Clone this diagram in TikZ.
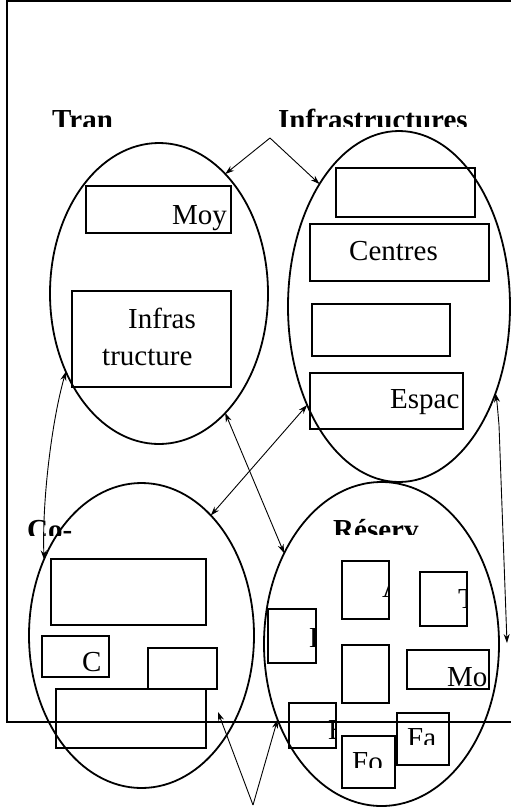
\documentclass[tikz,border=0pt]{standalone}
\usepackage{fontspec}
\setmainfont{Liberation Serif}
\usetikzlibrary{arrows.meta,calc,positioning,shapes}
\tikzstyle{zone}=[
  draw=black,
  ellipse,
  inner sep=0pt,
  outer sep=0pt,
  line width=1.8pt,
]
\tikzstyle{element}=[
  draw=black,
  rectangle,
  inner sep=0pt,
  outer sep=0pt,
  line width=1.6pt,
]
\tikzstyle{boxtext}=[
  anchor=base west,
  inner sep=0pt,
  font={\fontsize{29}{37}\selectfont},
]
\tikzstyle{heading}=[
  anchor=base west,
  inner sep=0pt,
  font={\fontsize{29}{37}\selectfont\bfseries},
]
\tikzstyle{arrow}=[
  draw=black,
  line width=0.9pt,
]
\tikzset{
  >={Stealth[length=9pt,width=6pt]},
}

\begin{document}
\begin{tikzpicture}[x=1pt,y=-1pt]
     \useasboundingbox (0,0) rectangle (511,807);
     \draw [line width=1.6pt] (7,1) rectangle (540,722);
     %% zones
     \node (trans) [zone, minimum width=218pt, minimum height=301pt] at (159,293.5) {};
     \node (infra) [zone, minimum width=222pt, minimum height=351pt] at (399,306.5) {};
     \node (co) [zone, minimum width=225pt, minimum height=305pt] at (141.5,635.5) {};
     \node (reserve) [zone, minimum width=235pt, minimum height=324pt] at (381.5,644) {};
     %% headings
     \begin{scope}
       \clip (40,90) rectangle (140,126);
       \node (tran) [heading] at (52,129.5) {Tran};
     \end{scope}
     \begin{scope}
       \clip (270,90) rectangle (480,126);
       \node (infratitle) [heading] at (278,129.5) {Infrastructures};
     \end{scope}
     \begin{scope}
       \clip (20,505) rectangle (120,535);
       \node (cotitle) [heading] at (27,539.5) {Co-};
     \end{scope}
     \begin{scope}
       \clip (320,505) rectangle (430,534);
       \node (restitle) [heading] at (333,539) {Réserv};
     \end{scope}
     %% boxes of the first zone
     \node (moy) [element, minimum width=145pt, minimum height=47pt] at (158.5,209.5) {};
     \node (infbox) [element, minimum width=159pt, minimum height=96pt] at (151.5,339) {};
     \begin{scope}
       \clip (moy.south west) rectangle (moy.north east);
       \node [boxtext] at (172,224) {Moy};
     \end{scope}
     \node [boxtext] at (128,328) {Infras};
     \node [boxtext] at (102,365) {tructure};
     %% boxes of the second zone
     \node (infA) [element, minimum width=139pt, minimum height=49pt] at (405.5,192.5) {};
     \node (centres) [element, minimum width=179pt, minimum height=57pt] at (399.5,252.5) {};
     \node (infC) [element, minimum width=138pt, minimum height=52pt] at (381,330) {};
     \node (espace) [element, minimum width=153pt, minimum height=56pt] at (386.5,401) {};
     \node [boxtext] at (349,260) {Centres};
     \begin{scope}
       \clip (espace.south west) rectangle (espace.north east);
       \node [boxtext] at (390,408) {Espac};
     \end{scope}
     %% boxes of the third zone
     \node (coA) [element, minimum width=155pt, minimum height=66pt] at (128.5,592) {};
     \node (coC) [element, minimum width=67pt, minimum height=41pt] at (75.5,656.5) {};
     \node (coG) [element, minimum width=69pt, minimum height=41pt] at (182.5,668.5) {};
     \node (coH) [element, minimum width=150pt, minimum height=59pt] at (131,718.5) {};
     \node [boxtext] at (82,671) {C};
     %% boxes of the fourth zone
     \node (resA) [element, minimum width=47pt, minimum height=58pt] at (365.5,590) {};
     \node (resT) [element, minimum width=47pt, minimum height=54pt] at (443.5,599) {};
     \node (resE) [element, minimum width=48pt, minimum height=54pt] at (292,636) {};
     \node (resL) [element, minimum width=47pt, minimum height=58pt] at (365.5,674) {};
     \node (resMo) [element, minimum width=82pt, minimum height=39pt] at (448,669.5) {};
     \node (resP) [element, minimum width=47pt, minimum height=45pt] at (312.5,725.5) {};
     \node (resFo) [element, minimum width=53pt, minimum height=52pt] at (368.5,762) {};
     \node (resFa) [element, minimum width=52pt, minimum height=52pt] at (423,739) {};
     \begin{scope}
       \clip (resA.south west) rectangle (resA.north east);
       \node [boxtext] at (382,597) {A};
     \end{scope}
     \begin{scope}
       \clip (resT.south west) rectangle (resT.north east);
       \node [boxtext] at (458,608) {T};
     \end{scope}
     \begin{scope}
       \clip (resE.south west) rectangle (resE.north east);
       \node [boxtext] at (309,647) {E};
     \end{scope}
     \begin{scope}
       \clip (resP.south west) rectangle (resP.north east);
       \node [boxtext] at (328,739) {E};
     \end{scope}
     \begin{scope}
       \clip (resMo.south west) rectangle (resMo.north east);
       \node [boxtext] at (447,686) {Mo};
     \end{scope}
     \begin{scope}
       \clip (342,736) rectangle (395,767);
       \node [boxtext] at (352,771) {Fo};
     \end{scope}
     \begin{scope}
       \clip (397,713) rectangle (449,744);
       \node [boxtext] at (407,747) {Fa};
     \end{scope}
     %% connectors
     \coordinate (topfork) at (270,138);
     \coordinate (bottomfork) at (253,805);
     \coordinate (rightend) at (507,643);
     \coordinate (coend) at (218,712);
     \draw [->, arrow] (topfork) -- (trans.61);
     \draw [->, arrow] (topfork) -- (infra.123);
     \draw [<->, arrow] (trans.220) .. controls (52,420) and (42,500) .. (co.142);
     \draw [<->, arrow] (trans.-61) -- (reserve.137);
     \draw [<->, arrow] (infra.227) -- (co.60);
     \draw [<->, arrow] (infra.-42) .. controls (497,402) .. (499,425) -- (rightend);
     \draw [->, arrow] (bottomfork) -- (coend);
     \draw [->, arrow] (bottomfork) -- (reserve.216);
   \end{tikzpicture}
\end{document}
